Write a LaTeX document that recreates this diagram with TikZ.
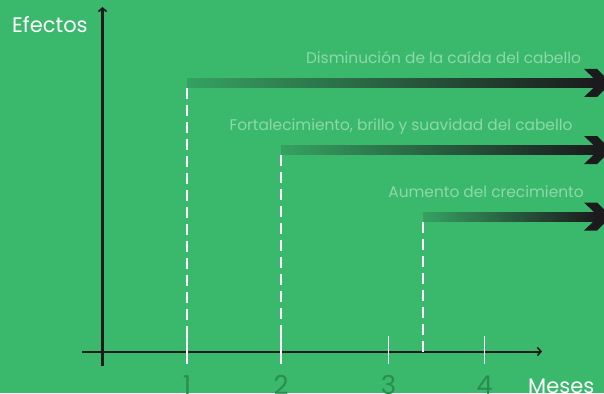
\documentclass[tikz,border=0pt]{standalone}
\usepackage{fontspec}
\setmainfont{Poppins}
\usetikzlibrary{arrows.meta}
\definecolor{bg}{HTML}{3AB96D}
\definecolor{ink}{HTML}{1B1B1D}
\definecolor{pale}{HTML}{8ED8AA}
\definecolor{num}{HTML}{2A8C51}
\begin{document}
\begin{tikzpicture}[x={(1pt,0)},y={(0,-1pt)},
  axis/.style={draw=ink,line width=2.4pt,-{Straight Barb[length=3.5pt,width=8pt,line width=1.6pt]}},
  tickmark/.style={draw=white,line width=1.4pt},
  guide/.style={draw=white,line width=1.3pt,dash pattern=on 11pt off 6pt},
  efflabel/.style={text=pale,font=\fontsize{15.4}{17}\selectfont,inner sep=0pt,anchor=base},
  numlabel/.style={text=num,font=\fontsize{26}{28}\selectfont,inner sep=0pt,anchor=base},
  axlabel/.style={text=white,font=\fontsize{21}{23}\selectfont,inner sep=0pt,anchor=base west}]
\fill[bg] (0,0) rectangle (604,393);
\useasboundingbox (0,0) rectangle (604,393);
% axes
\coordinate (ybot) at (102.5,366);
\coordinate (ytop) at (102.5,7);
\coordinate (xl) at (82,351.5);
\coordinate (xr) at (542,351.5);
\draw[axis] (ybot) -- (ytop);
\draw[axis,line width=2pt] (xl) -- (xr);
\node[axlabel] (efectos) at (12,33) {Efectos};
\node[axlabel] (meses) at (528,393) {Meses};
% ticks and numbers
\foreach \i/\x in {1/187,2/281,3/388.5,4/484.5}{
  \coordinate (t\i a) at (\x,336);
  \coordinate (t\i b) at (\x,364);
  \draw[tickmark] (t\i a) -- (t\i b);
  \node[numlabel] (n\i) at (\x,394) {\i};
}
% effect arrows
\foreach \k/\xs/\yb/\txt/\tx/\ty in {
  1/187/83/{Disminución de la caída del cabello}/443.5/64,
  2/281/150/{Fortalecimiento, brillo y suavidad del cabello}/401/130,
  3/423/216.5/{Aumento del crecimiento}/486/197}{
  \coordinate (s\k) at (\xs,\yb);
  \coordinate (e\k) at (594,\yb);
  \coordinate (f\k) at (\xs,352);
  \shade[left color=bg!85!ink,right color=ink] ([yshift=4.5pt]s\k) rectangle ([yshift=-4.5pt]e\k);
  \fill[ink] (584,\yb-14) -- (597,\yb-14) -- (611,\yb) -- (597,\yb+14) -- (584,\yb+14)
     -- ([yshift=-4.5pt]e\k) -- ([yshift=4.5pt]e\k) -- cycle;
  \draw[guide] ([yshift=-5pt]s\k) -- (f\k);
  \node[efflabel] (l\k) at (\tx,\ty) {\txt};
}
\end{tikzpicture}
\end{document}
